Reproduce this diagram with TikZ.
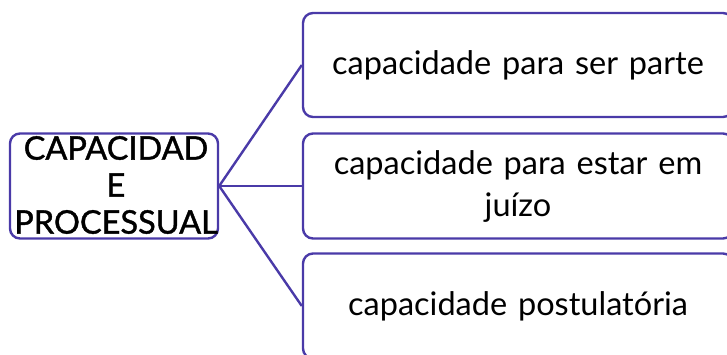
\documentclass[tikz,border=0pt]{standalone}
\usepackage{fontspec}
\setmainfont{Lato}
\newfontfamily\rootfont[FakeBold=1.2]{Lato}
\definecolor{boxline}{HTML}{4A3AA8}

\begin{document}
\begin{tikzpicture}[x=1pt, y=-1pt,
  box/.style = {draw = boxline, line width = 2.4pt, rounded corners = 10pt, fill = white, inner sep = 0pt},
  leaf/.style = {box, minimum width = 430pt, minimum height = 105pt, text width = 420pt, align = center, font = \fontsize{32.5}{42}\selectfont},
  link/.style = {draw = boxline, line width = 2.4pt}]
\useasboundingbox (0,0) rectangle (727,354);
\clip (0,0) rectangle (727,354);
\node [box, minimum width = 208pt, minimum height = 105pt] (root) at (114,186) {};
\node [text width = 240pt, align = center, font = \rootfont\fontsize{32.5}{37}\selectfont] (rootlabel) at (116,185) {CAPACIDAD\\E\\PROCESSUAL};
\node [leaf, minimum height = 104pt] (partenode) at (518,65) {capacidade para ser parte};
\node [leaf] (juizonode) at (518,186) {capacidade para estar em\\juízo};
\node [leaf] (postnode) at (518,306) {capacidade postulatória};
\draw [link] (root.east) -- (partenode.west);
\draw [link] (root.east) -- (juizonode.west);
\draw [link] (root.east) -- (postnode.west);
\end{tikzpicture}
\end{document}
